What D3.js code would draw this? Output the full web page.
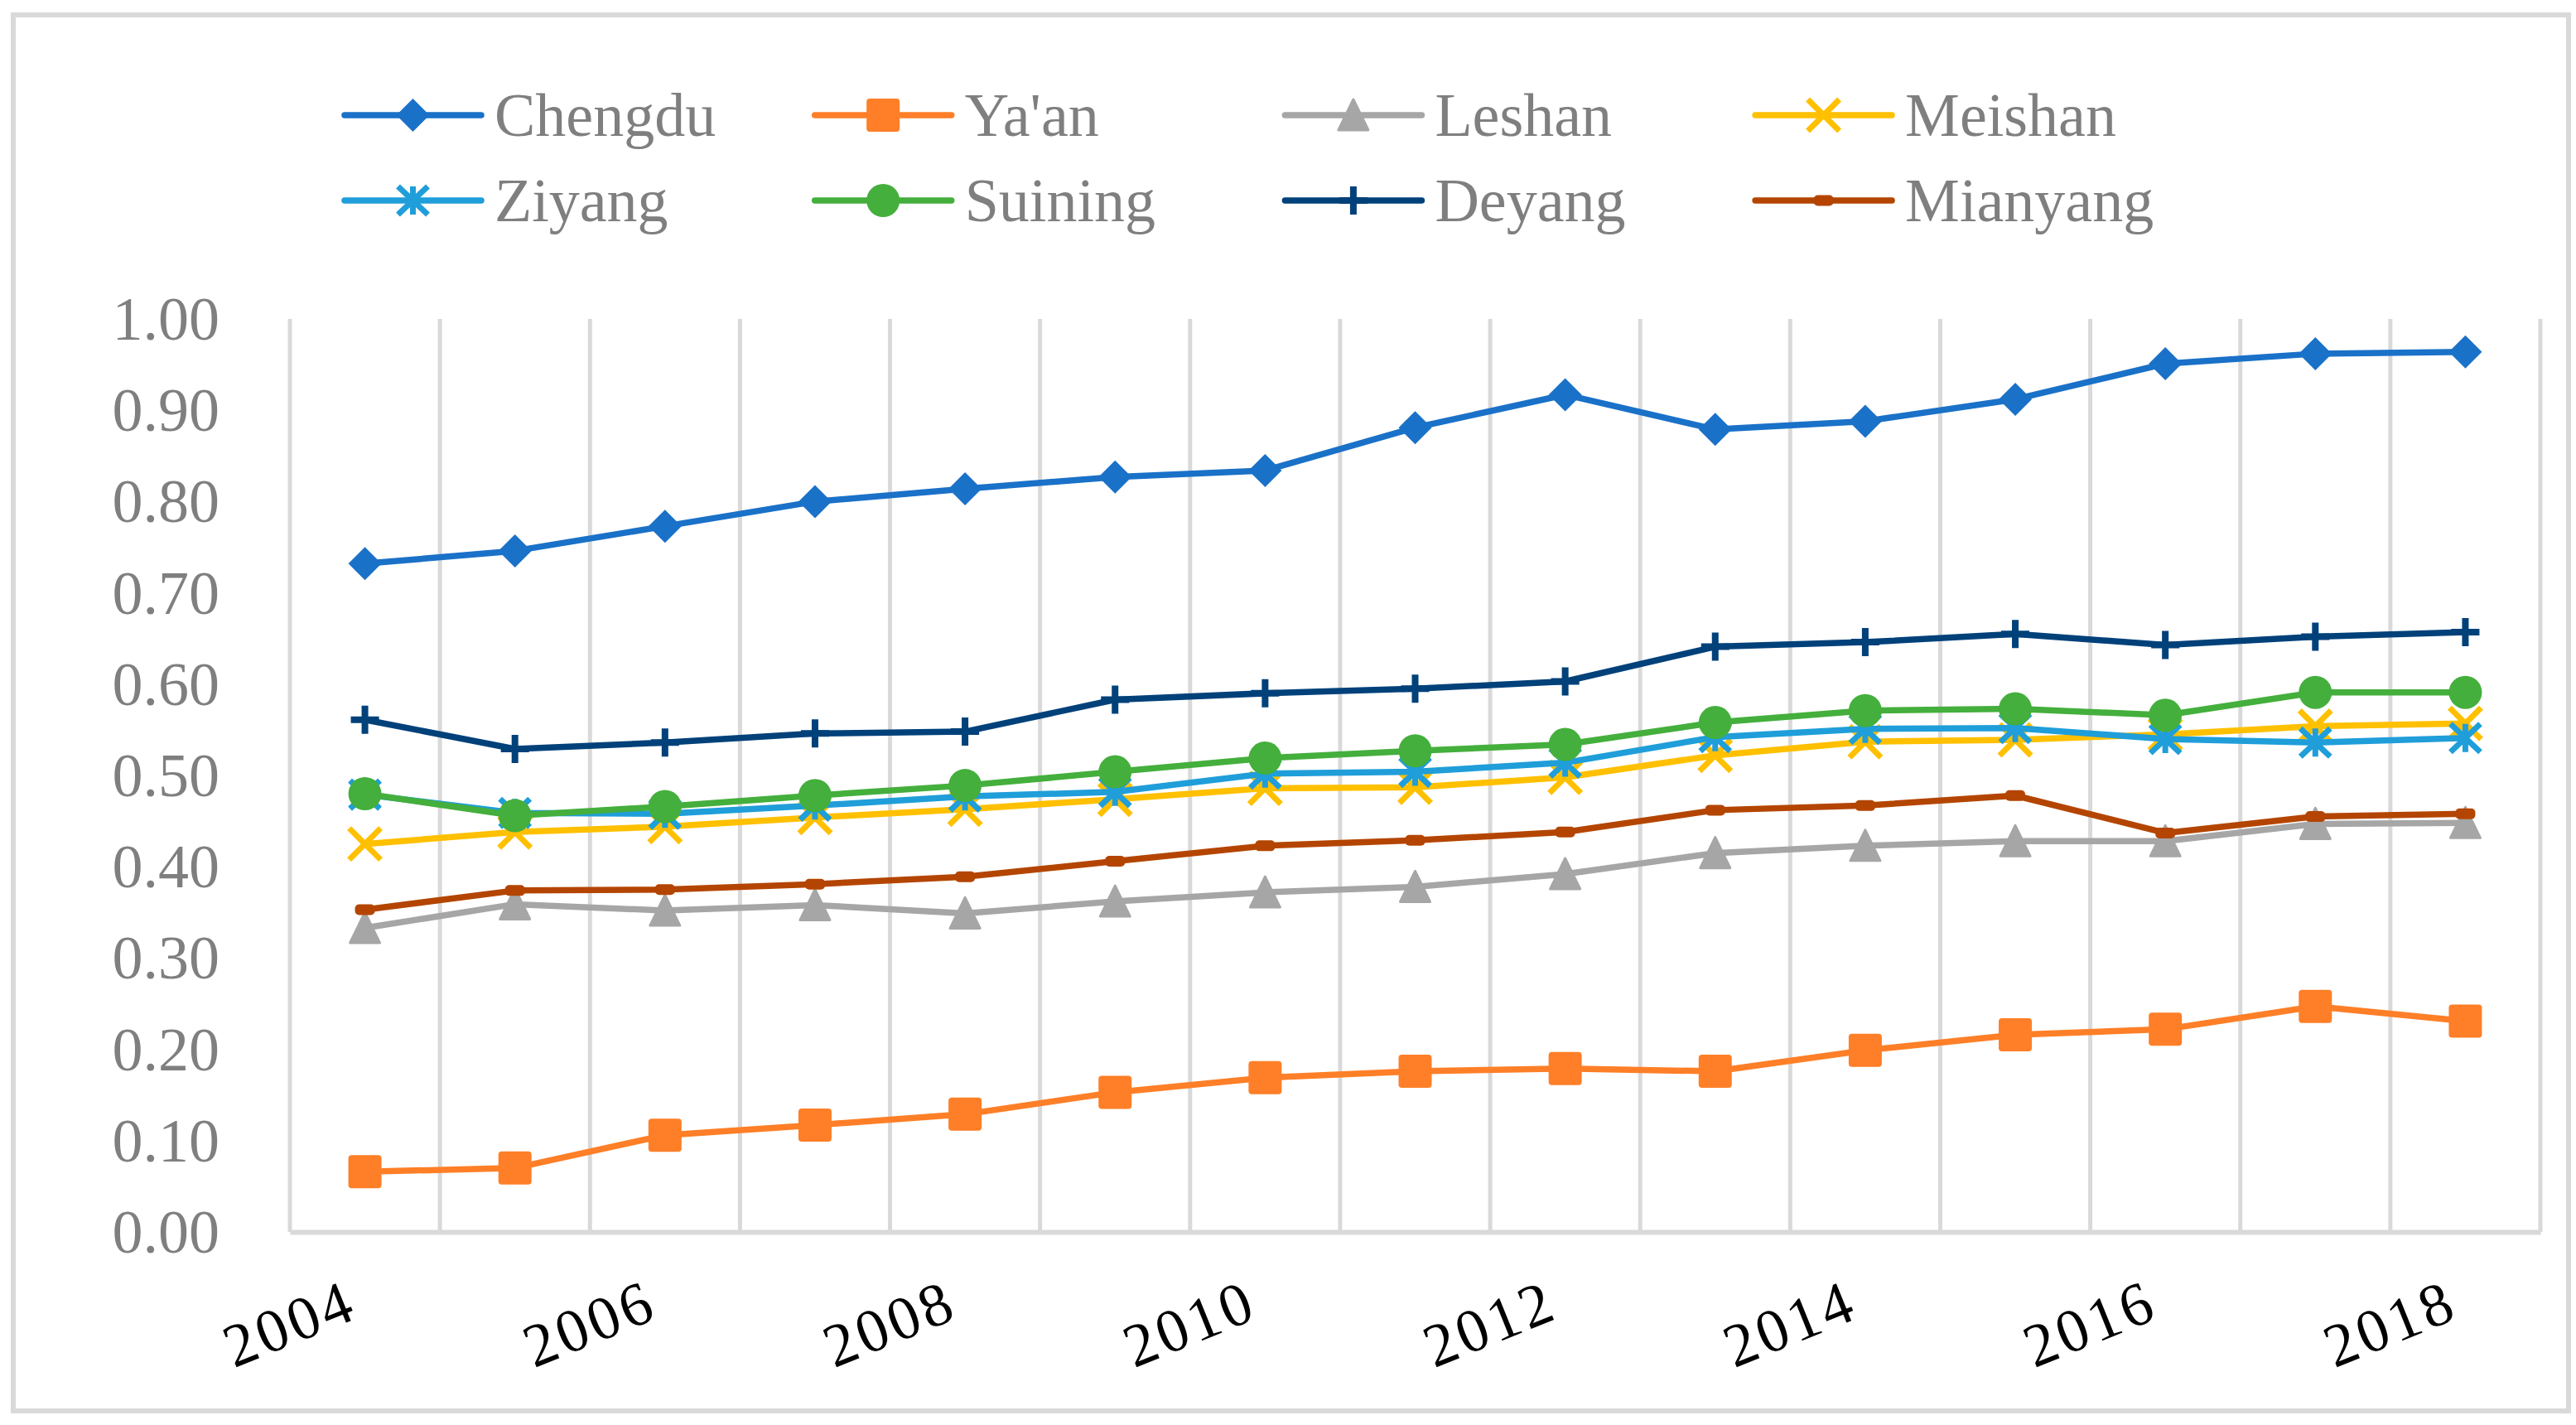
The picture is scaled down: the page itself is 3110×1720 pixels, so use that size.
<!DOCTYPE html>
<html lang="en">
<head>
  <title>Sichuan cities index</title>
  <meta charset="UTF-8">
  <style>
    body { margin: 0; background: #fff; }
    text { font-family: "Liberation Serif", "Times New Roman", serif; }
  </style>
  <script src="https://cdn.jsdelivr.net/npm/d3@7"></script>
</head>
<body>
<script>
  var years = [2004, 2005, 2006, 2007, 2008, 2009, 2010, 2011, 2012, 2013, 2014, 2015, 2016, 2017, 2018];
  var yearLabels = [2004, 2006, 2008, 2010, 2012, 2014, 2016, 2018];
  var yTicks = [0, 0.1, 0.2, 0.3, 0.4, 0.5, 0.6, 0.7, 0.8, 0.9, 1.0];

  var chengdu  = [0.732, 0.746, 0.773, 0.800, 0.814, 0.827, 0.834, 0.881, 0.917, 0.879, 0.888, 0.912, 0.951, 0.962, 0.964];
  var yaan     = [0.066, 0.070, 0.106, 0.117, 0.129, 0.153, 0.169, 0.176, 0.179, 0.176, 0.199, 0.216, 0.222, 0.247, 0.231];
  var leshan   = [0.333, 0.359, 0.352, 0.358, 0.349, 0.362, 0.372, 0.378, 0.392, 0.415, 0.423, 0.428, 0.428, 0.447, 0.448];
  var meishan  = [0.425, 0.438, 0.444, 0.454, 0.463, 0.474, 0.486, 0.487, 0.498, 0.522, 0.537, 0.539, 0.545, 0.554, 0.557];
  var ziyang   = [0.479, 0.459, 0.458, 0.467, 0.477, 0.482, 0.502, 0.504, 0.514, 0.542, 0.551, 0.552, 0.540, 0.536, 0.541];
  var suining  = [0.480, 0.456, 0.466, 0.478, 0.489, 0.504, 0.519, 0.527, 0.534, 0.558, 0.571, 0.573, 0.566, 0.591, 0.591];
  var deyang   = [0.561, 0.529, 0.536, 0.546, 0.548, 0.583, 0.590, 0.595, 0.603, 0.641, 0.646, 0.655, 0.643, 0.652, 0.657];
  var mianyang = [0.353, 0.374, 0.375, 0.381, 0.389, 0.406, 0.423, 0.429, 0.438, 0.462, 0.467, 0.478, 0.437, 0.455, 0.458];

  var cityNames = ["Chengdu", "Ya'an", "Leshan", "Meishan", "Ziyang", "Suining", "Deyang", "Mianyang"];
  var cityValues = [chengdu, yaan, leshan, meishan, ziyang, suining, deyang, mianyang];
  var cityColors = ["#1a71c8", "#fe7f27", "#a6a6a6", "#ffc000", "#1f9ed9", "#44af3c", "#01417a", "#b44500"];
  var cityMarkers = ["diamond", "square", "triangle", "x", "star", "circle", "plus", "dash"];

  var W = 3110, H = 1720;
  var grey = "#d9d9d9";

  var svg = d3.select("body").append("svg")
    .attr("width", W)
    .attr("height", H);

  svg.append("rect")
    .attr("x", 16).attr("y", 18)
    .attr("width", 3085).attr("height", 1685)
    .attr("fill", "#fff")
    .attr("stroke", grey)
    .attr("stroke-width", 6);

  var x = d3.scaleBand().domain(years).range([350, 3067]);
  var y = d3.scaleLinear().domain([0, 1]).range([1487, 385]);
  var cx = function(yr) { return x(yr) + x.bandwidth() / 2; };

  // vertical category grid lines
  var bounds = years.map(function(yr) { return x(yr); }).concat([x.range()[1]]);
  svg.append("g").selectAll("line").data(bounds).enter().append("line")
    .attr("x1", function(d) { return d; })
    .attr("x2", function(d) { return d; })
    .attr("y1", y(1))
    .attr("y2", y(0))
    .attr("stroke", grey)
    .attr("stroke-width", 5);

  // y axis labels
  var yAxis = svg.append("g")
    .attr("transform", "translate(350,0)")
    .call(d3.axisLeft(y).tickValues(yTicks).tickFormat(d3.format(".2f")).tickSize(0).tickPadding(85));
  yAxis.select(".domain").remove();
  yAxis.selectAll("text")
    .attr("fill", "#7f7f7f")
    .attr("font-size", 74)
    .attr("font-family", "Liberation Serif")
    .attr("dy", "0.33em");

  // x axis
  var xAxis = svg.append("g")
    .attr("transform", "translate(0," + y(0) + ")")
    .call(d3.axisBottom(x).tickValues(yearLabels).tickSize(0));
  xAxis.select(".domain")
    .attr("stroke", grey)
    .attr("stroke-width", 6);
  xAxis.selectAll("text")
    .attr("fill", "#000")
    .attr("font-size", 74)
    .attr("font-family", "Liberation Serif")
    .attr("letter-spacing", 4)
    .attr("text-anchor", "end")
    .attr("y", 0)
    .attr("dy", 0)
    .attr("transform", "translate(-6,103) rotate(-22)");

  function drawMarker(g, type, color) {
    if (type === "diamond") {
      g.append("path").attr("d", "M0,-20L20,0L0,20L-20,0Z").attr("fill", color);
    } else if (type === "square") {
      g.append("rect").attr("x", -20).attr("y", -20).attr("width", 40).attr("height", 40)
        .attr("rx", 4).attr("fill", color);
    } else if (type === "triangle") {
      g.append("path").attr("d", "M0,-19L18,18L-18,18Z").attr("fill", color)
        .attr("stroke", color).attr("stroke-width", 3).attr("stroke-linejoin", "round");
    } else if (type === "x") {
      g.append("path").attr("d", "M-19,-19L19,19M19,-19L-19,19")
        .attr("stroke", color).attr("stroke-width", 7).attr("fill", "none");
    } else if (type === "star") {
      g.append("path").attr("d", "M-18,-17L18,17M18,-17L-18,17M0,-17L0,17")
        .attr("stroke", color).attr("stroke-width", 7).attr("fill", "none");
    } else if (type === "circle") {
      g.append("circle").attr("r", 20).attr("fill", color);
    } else if (type === "plus") {
      g.append("path").attr("d", "M-17,0L17,0M0,-17L0,17")
        .attr("stroke", color).attr("stroke-width", 8).attr("fill", "none");
    } else if (type === "dash") {
      g.append("rect").attr("x", -12).attr("y", -6.5).attr("width", 24).attr("height", 13)
        .attr("rx", 5).attr("fill", color);
    }
  }

  var line = d3.line()
    .x(function(d, i) { return cx(years[i]); })
    .y(function(d) { return y(d); });

  cityNames.forEach(function(name, k) {
    var g = svg.append("g").attr("class", "series");
    g.append("path")
      .attr("d", line(cityValues[k]))
      .attr("fill", "none")
      .attr("stroke", cityColors[k])
      .attr("stroke-width", 7.5)
      .attr("stroke-linejoin", "round");
    cityValues[k].forEach(function(v, i) {
      var m = g.append("g").attr("transform", "translate(" + cx(years[i]) + "," + y(v) + ")");
      drawMarker(m, cityMarkers[k], cityColors[k]);
    });
  });

  // legend, 4 columns x 2 rows
  var legend = svg.append("g");
  cityNames.forEach(function(name, k) {
    var lx = 416 + (k % 4) * 567.7;
    var ly = k < 4 ? 139 : 242;
    var item = legend.append("g").attr("transform", "translate(" + lx + "," + ly + ")");
    item.append("line")
      .attr("x1", 0).attr("x2", 165)
      .attr("stroke", cityColors[k])
      .attr("stroke-width", 7.5)
      .attr("stroke-linecap", "round");
    var m = item.append("g").attr("transform", "translate(82.5,0)");
    drawMarker(m, cityMarkers[k], cityColors[k]);
    item.append("text")
      .attr("x", 181)
      .attr("y", 25)
      .attr("fill", "#7f7f7f")
      .attr("font-size", 74)
      .text(name);
  });
</script>
</body>
</html>
